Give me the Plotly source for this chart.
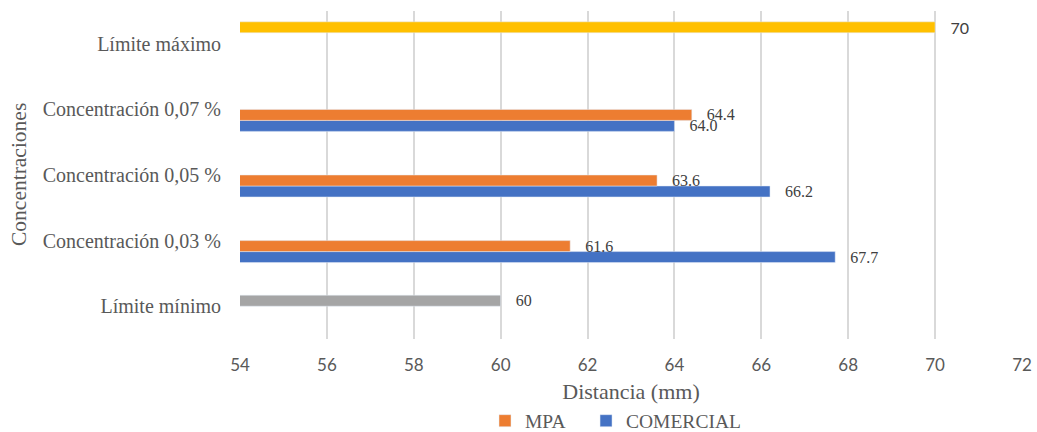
import plotly.graph_objects as go

categories = ["Límite mínimo", "Concentración 0,03 %", "Concentración 0,05 %",
              "Concentración 0,07 %", "Límite máximo"]
conc_cats = ["Concentración 0,03 %", "Concentración 0,05 %", "Concentración 0,07 %"]
comercial = [67.7, 66.2, 64.0]
mpa = [61.6, 63.6, 64.4]
lim_min_cat = ["Límite mínimo"]
lim_min = [60]
lim_max_cat = ["Límite máximo"]
lim_max = [70]
x_ticks = [54, 56, 58, 60, 62, 64, 66, 68, 70, 72]

SERIF = "Liberation Serif, Times New Roman, serif"
SANS = "Lato, Open Sans, sans-serif"
LBL = dict(family=SERIF, size=16, color="#404040")

common = dict(orientation="h", textposition="outside", cliponaxis=False, constraintext="none")

fig = go.Figure()
fig.add_trace(go.Bar(name="COMERCIAL", y=conc_cats, x=comercial, marker_color="#4472C4",
                     legend="legend2", text=[f"   {v:.1f}" for v in comercial], textfont=LBL, **common))
fig.add_trace(go.Bar(name="MPA", y=conc_cats, x=mpa, marker_color="#ED7D31",
                     legend="legend", text=[f"   {v:.1f}" for v in mpa], textfont=LBL, **common))
fig.add_trace(go.Bar(name="Límite mínimo", y=lim_min_cat, x=lim_min, marker_color="#A5A5A5",
                     showlegend=False, text=[f"   {v:g}" for v in lim_min], textfont=LBL, **common))
fig.add_trace(go.Bar(name="Límite máximo", y=lim_max_cat, x=lim_max, marker_color="#FFC000",
                     showlegend=False, text=[f"   {v:g}" for v in lim_max],
                     textfont=dict(family=SANS, size=16, color="#404040"), **common))

LEG = dict(orientation="h", y=-0.25, yanchor="middle", xanchor="left",
           font=dict(family=SERIF, size=19.5, color="#595959"), itemwidth=30,
           bgcolor="rgba(0,0,0,0)")

fig.update_layout(
    width=1037, height=432,
    margin=dict(l=240, r=15, t=11, b=93, autoexpand=False),
    plot_bgcolor="white", paper_bgcolor="white",
    barmode="group", bargap=0.33, bargroupgap=0,
    showlegend=True,
    legend=dict(x=0.3133, **LEG),
    legend2=dict(x=0.4425, **LEG),
    xaxis=dict(range=[54, 72], tickvals=x_ticks, showgrid=True, gridcolor="#D9D9D9",
               gridwidth=1.5, zeroline=False, showline=False, ticks="", automargin=False,
               tickfont=dict(family=SANS, size=17, color="#595959"),
               ticklabelstandoff=14,
               title=dict(text="Distancia (mm)", font=dict(family=SERIF, size=22, color="#595959"),
                          standoff=9)),
    yaxis=dict(categoryorder="array", categoryarray=categories, showgrid=False,
               zeroline=False, showline=False, ticks="", automargin=False,
               tickfont=dict(family=SERIF, size=20, color="#595959"),
               ticklabelstandoff=18),
    annotations=[dict(text="Concentraciones", xref="paper", yref="paper", x=0, y=0.5,
                      xshift=-221, textangle=-90, showarrow=False, xanchor="center",
                      yanchor="middle",
                      font=dict(family=SERIF, size=21.5, color="#595959"))],
)
fig.write_html("out.html", post_script="document.body.style.margin='0';",
               config={"displayModeBar": False})
